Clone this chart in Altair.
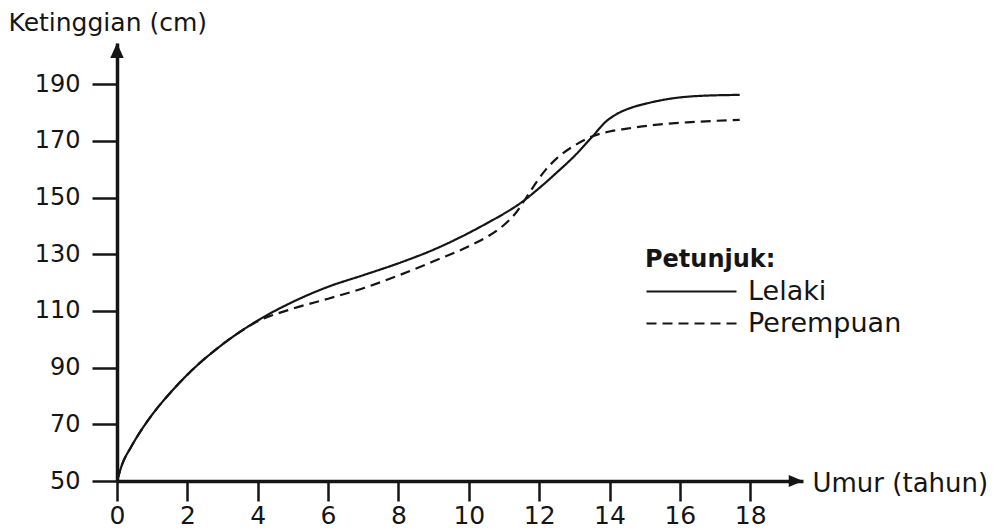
import altair as alt
import pandas as pd

# ---- data ----
age_lelaki = [0, 0.15, 0.4, 1, 1.5, 2, 3, 4, 5, 6, 7, 8, 9, 10, 10.6, 11, 11.5, 12, 12.5, 13, 13.5,
              13.9, 14.2, 14.6, 15, 15.7, 16.5, 17.7]
lelaki = [50, 56, 62, 73.4, 80.9, 87.5, 98.2, 106.6, 113.2, 118.5, 122.6, 126.8, 131.6, 137.5, 141.5,
          144.3, 148.3, 153.3, 158.8, 164.6, 171.3, 176.8, 179.4, 181.6, 183, 184.8, 185.8, 186.2]
age_perempuan = [0, 0.15, 0.4, 1, 1.5, 2, 3, 4, 5, 6, 7, 8, 9, 10, 10.5, 11, 11.3, 11.6, 11.9, 12.2,
                 12.5, 13, 13.5, 14, 14.5, 15.2, 16.2, 17.7]
perempuan = [50, 56, 62, 73.4, 80.9, 87.5, 98.2, 106.3, 110.8, 114.3, 118, 122.5, 127.5, 132.8, 136,
             140.3, 144, 149.3, 155, 160, 163.8, 168.3, 171.5, 173.3, 174.3, 175.5, 176.5, 177.4]
series_names = ["Lelaki", "Perempuan"]
x_ticks = [0, 2, 4, 6, 8, 10, 12, 14, 16, 18]
y_ticks = [50, 70, 90, 110, 130, 150, 170, 190]
X_MAX = 19.5
Y_MAX = 204.5

df = pd.concat([
    pd.DataFrame({"age": age_lelaki, "height": lelaki, "sex": series_names[0]}),
    pd.DataFrame({"age": age_perempuan, "height": perempuan, "sex": series_names[1]}),
])

FONT = "DejaVu Sans"
INK = "#151515"
W, H = 686, 438

x_scale = alt.Scale(domain=[0, X_MAX], nice=False, zero=False)
y_scale = alt.Scale(domain=[50, Y_MAX], nice=False, zero=False)

x_axis = alt.Axis(values=x_ticks, title="Umur (tahun)", grid=False,
                  titleX=695, titleY=2, titleAngle=0, titleAlign="left", titleBaseline="middle",
                  titleFont=FONT, titleFontSize=26, titleFontWeight="normal", titleColor=INK,
                  labelFont=FONT, labelFontSize=25, labelColor=INK, labelPadding=2,
                  tickSize=20, tickWidth=2.5, tickColor=INK,
                  domainColor=INK, domainWidth=3.5, labelFlush=False)
y_axis = alt.Axis(values=y_ticks, title="Ketinggian (cm)", grid=False,
                  titleX=-109, titleY=-13, titleAngle=0, titleAlign="left", titleBaseline="alphabetic",
                  titleFont=FONT, titleFontSize=25, titleFontWeight="normal", titleColor=INK,
                  labelFont=FONT, labelFontSize=24, labelColor=INK, labelPadding=12,
                  tickSize=25, tickWidth=2.5, tickColor=INK,
                  domainColor=INK, domainWidth=3.5, labelFlush=False)

lines = alt.Chart(df).mark_line(interpolate="monotone", color=INK, strokeWidth=2.2).encode(
    x=alt.X("age:Q", scale=x_scale, axis=x_axis),
    y=alt.Y("height:Q", scale=y_scale, axis=y_axis),
    strokeDash=alt.StrokeDash(
        "sex:N",
        scale=alt.Scale(domain=series_names, range=[[1, 0], [10, 6]]),
        legend=alt.Legend(title="Petunjuk:", orient="none", legendX=528, legendY=205,
                          symbolType="M-1,0H5", symbolSize=900, symbolStrokeWidth=2.2,
                          symbolStrokeColor=INK, labelOffset=70,
                          labelFont=FONT, labelFontSize=27, labelColor=INK,
                          titleFont=FONT, titleFontSize=24, titleFontWeight="bold", titleColor=INK,
                          titlePadding=3, rowPadding=2, padding=0),
    ),
)

arrow_y = alt.Chart(pd.DataFrame({"age": [0], "height": [Y_MAX]})).mark_point(
    shape="M0,0L-0.45,1L0.45,1Z", filled=True, size=900, color=INK, opacity=1
).encode(x=alt.X("age:Q", scale=x_scale), y=alt.Y("height:Q", scale=y_scale))

arrow_x = alt.Chart(pd.DataFrame({"age": [X_MAX], "height": [50]})).mark_point(
    shape="M0,0L-0.95,-0.4L-0.95,0.4Z", filled=True, size=900, color=INK, opacity=1
).encode(x=alt.X("age:Q", scale=x_scale), y=alt.Y("height:Q", scale=y_scale))

chart = alt.layer(lines, arrow_y, arrow_x).properties(
    width=W, height=H,
    autosize=alt.AutoSizeParams(type="none"),
    padding={"left": 109, "top": 35, "right": 190, "bottom": 58},
    background="white",
).configure_view(stroke=None)

chart.save("out.html", embed_options={"renderer": "svg", "actions": False})
